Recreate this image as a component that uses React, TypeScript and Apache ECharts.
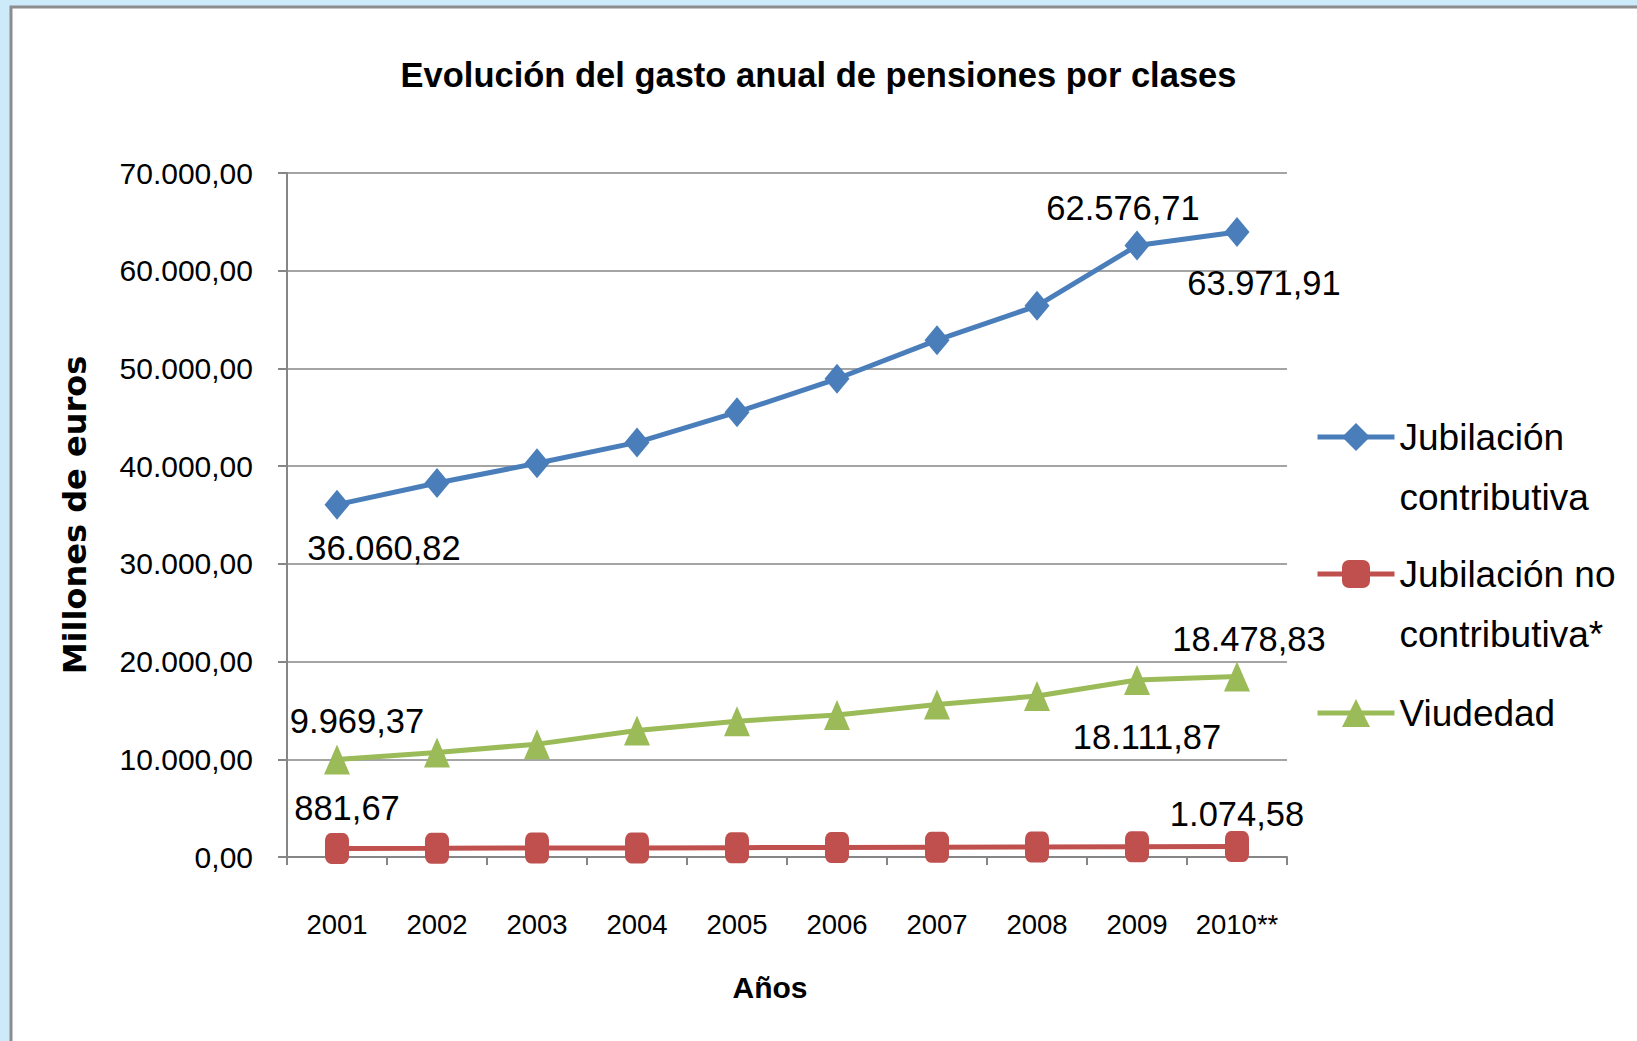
import React, { useEffect, useRef } from "react";
import * as echarts from "echarts";

const TITLE = "Evolución del gasto anual de pensiones por clases";
const Y_NAME = "Millones de euros";
const X_NAME = "Años";
const YEARS = ["2001", "2002", "2003", "2004", "2005", "2006", "2007", "2008", "2009", "2010**"];

const SERIES_NAMES = ["Jubilación contributiva", "Jubilación no contributiva*", "Viudedad"];
const LEGEND_LINES = [
  ["Jubilación", "contributiva"],
  ["Jubilación no", "contributiva*"],
  ["Viudedad"],
];
const JUB_CONTRIB = [36060.82, 38270, 40290, 42430, 45520, 48940, 52890, 56410, 62576.71, 63971.91];
const JUB_NO_CONTRIB = [881.67, 897, 915, 933, 955, 977, 998, 1020, 1048, 1074.58];
const VIUDEDAD = [9969.37, 10700, 11550, 12940, 13900, 14540, 15600, 16470, 18111.87, 18478.83];

const Y_MIN = 0;
const Y_MAX = 70000;
const Y_STEP = 10000;

// which points carry a value label, and where the label sits relative to the point
const LABELS_CONTRIB: Record<number, [number, number]> = { 0: [47, 43], 8: [-14, -38], 9: [27, 51] };
const LABELS_NO_CONTRIB: Record<number, [number, number]> = { 0: [10, -40], 9: [0, -32] };
const LABELS_VIUDEDAD: Record<number, [number, number]> = { 0: [20, -39], 8: [10, 57], 9: [12, -37] };

const COLORS = ["#4a7ebb", "#c0504d", "#9bbb59"];
const SANS = "'Liberation Sans', Arial, sans-serif";

function fmt(v: number): string {
  const [i, d] = Math.abs(v).toFixed(2).split(".");
  const g = i.replace(/\B(?=(\d{3})+(?!\d))/g, ".");
  return (v < 0 ? "-" : "") + g + "," + d;
}

function buildData(values: number[], labels: Record<number, [number, number]>) {
  return values.map((v, i) => {
    const off = labels[i];
    if (!off) return v;
    return {
      value: v,
      label: {
        show: true,
        position: "inside",
        offset: off,
        formatter: (p: any) => fmt(p.value),
        color: "#000",
        textBorderWidth: 0,
        fontFamily: SANS,
        fontSize: 34.5,
        lineHeight: 34.5,
      },
    };
  });
}

export default function App() {
  const ref = useRef<HTMLDivElement>(null);
  useEffect(() => {
    if (!ref.current) return;
    const chart = echarts.init(ref.current, undefined, { renderer: "svg" });
    const legendText = {
      fontFamily: SANS,
      fontSize: 37,
      lineHeight: 60,
      color: "#000",
    };
    const symbols = ["diamond", "roundRect", "triangle"];
    const sizes: any[] = [[25, 30], [24, 31], [26, 30]];
    const datas = [
      buildData(JUB_CONTRIB, LABELS_CONTRIB),
      buildData(JUB_NO_CONTRIB, LABELS_NO_CONTRIB),
      buildData(VIUDEDAD, LABELS_VIUDEDAD),
    ];
    // legend icon centre rows: 437, 574, 713; text blocks padded with a blank first line
    const legendTops = [347, 484, 623];
    chart.setOption({
      animation: false,
      backgroundColor: "#cdeafb",
      graphic: [
        {
          type: "rect",
          z: -10,
          silent: true,
          shape: { x: 11, y: 7, width: 1700, height: 1100 },
          style: { fill: "#ffffff", stroke: "#8c8c8c", lineWidth: 3 },
        },
      ],
      title: {
        text: TITLE,
        left: "center",
        top: 58,
        padding: [0, 0, 0, 13],
        textStyle: {
          fontFamily: SANS,
          fontWeight: "bold",
          fontSize: 34.5,
          lineHeight: 34.5,
          color: "#000",
        },
      },
      legend: SERIES_NAMES.map((name, i) => ({
        orient: "vertical",
        left: 1315,
        top: legendTops[i],
        padding: 0,
        itemWidth: 77,
        itemHeight: 35,
        selectedMode: false,
        lineStyle: { width: 5 },
        data: [name],
        formatter: () => {
          const lines = LEGEND_LINES[i];
          return lines.length === 2 ? " \n" + lines.join("\n") : " \n" + lines[0] + "\n ";
        },
        textStyle: legendText,
      })),
      grid: { left: 287, top: 173, width: 1000, height: 684, containLabel: false },
      xAxis: {
        type: "category",
        data: YEARS,
        boundaryGap: true,
        name: X_NAME,
        nameLocation: "middle",
        nameGap: 115,
        nameTextStyle: {
          fontFamily: SANS,
          fontWeight: "bold",
          fontSize: 30,
          lineHeight: 30,
          color: "#000",
          padding: [0, 34, 0, 0],
        },
        axisLine: { show: true, lineStyle: { color: "#868686", width: 2 } },
        axisTick: { show: true, length: 8, alignWithLabel: false, lineStyle: { color: "#868686", width: 2 } },
        axisLabel: {
          margin: 54,
          fontFamily: SANS,
          fontSize: 27.5,
          lineHeight: 27.5,
          color: "#000",
          interval: 0,
        },
        splitLine: { show: false },
      },
      yAxis: {
        type: "value",
        min: Y_MIN,
        max: Y_MAX,
        interval: Y_STEP,
        name: Y_NAME,
        nameLocation: "middle",
        nameRotate: 90,
        nameGap: 196,
        nameTextStyle: {
          fontFamily: "'DejaVu Sans', Verdana, sans-serif",
          fontWeight: "bold",
          fontSize: 32,
          lineHeight: 32,
          color: "#000",
        },
        axisLine: { show: true, lineStyle: { color: "#868686", width: 2 } },
        axisTick: { show: true, length: 9, lineStyle: { color: "#868686", width: 2 } },
        axisLabel: {
          margin: 34,
          fontFamily: SANS,
          fontSize: 30,
          lineHeight: 30,
          color: "#000",
          formatter: (v: number) => fmt(v),
        },
        splitLine: { show: true, lineStyle: { color: "#868686", width: 1.5 } },
      },
      series: SERIES_NAMES.map((name, i) => ({
        name,
        type: "line",
        data: datas[i],
        symbol: symbols[i],
        symbolSize: sizes[i],
        showAllSymbol: true,
        color: COLORS[i],
        lineStyle: { color: COLORS[i], width: 5 },
        itemStyle: { color: COLORS[i] },
        label: { show: false },
        emphasis: { disabled: true },
      })),
    });
    return () => chart.dispose();
  }, []);
  return (
    <div
      ref={ref}
      style={{ position: "fixed", left: 0, top: 0, width: 1637, height: 1041 }}
    />
  );
}
